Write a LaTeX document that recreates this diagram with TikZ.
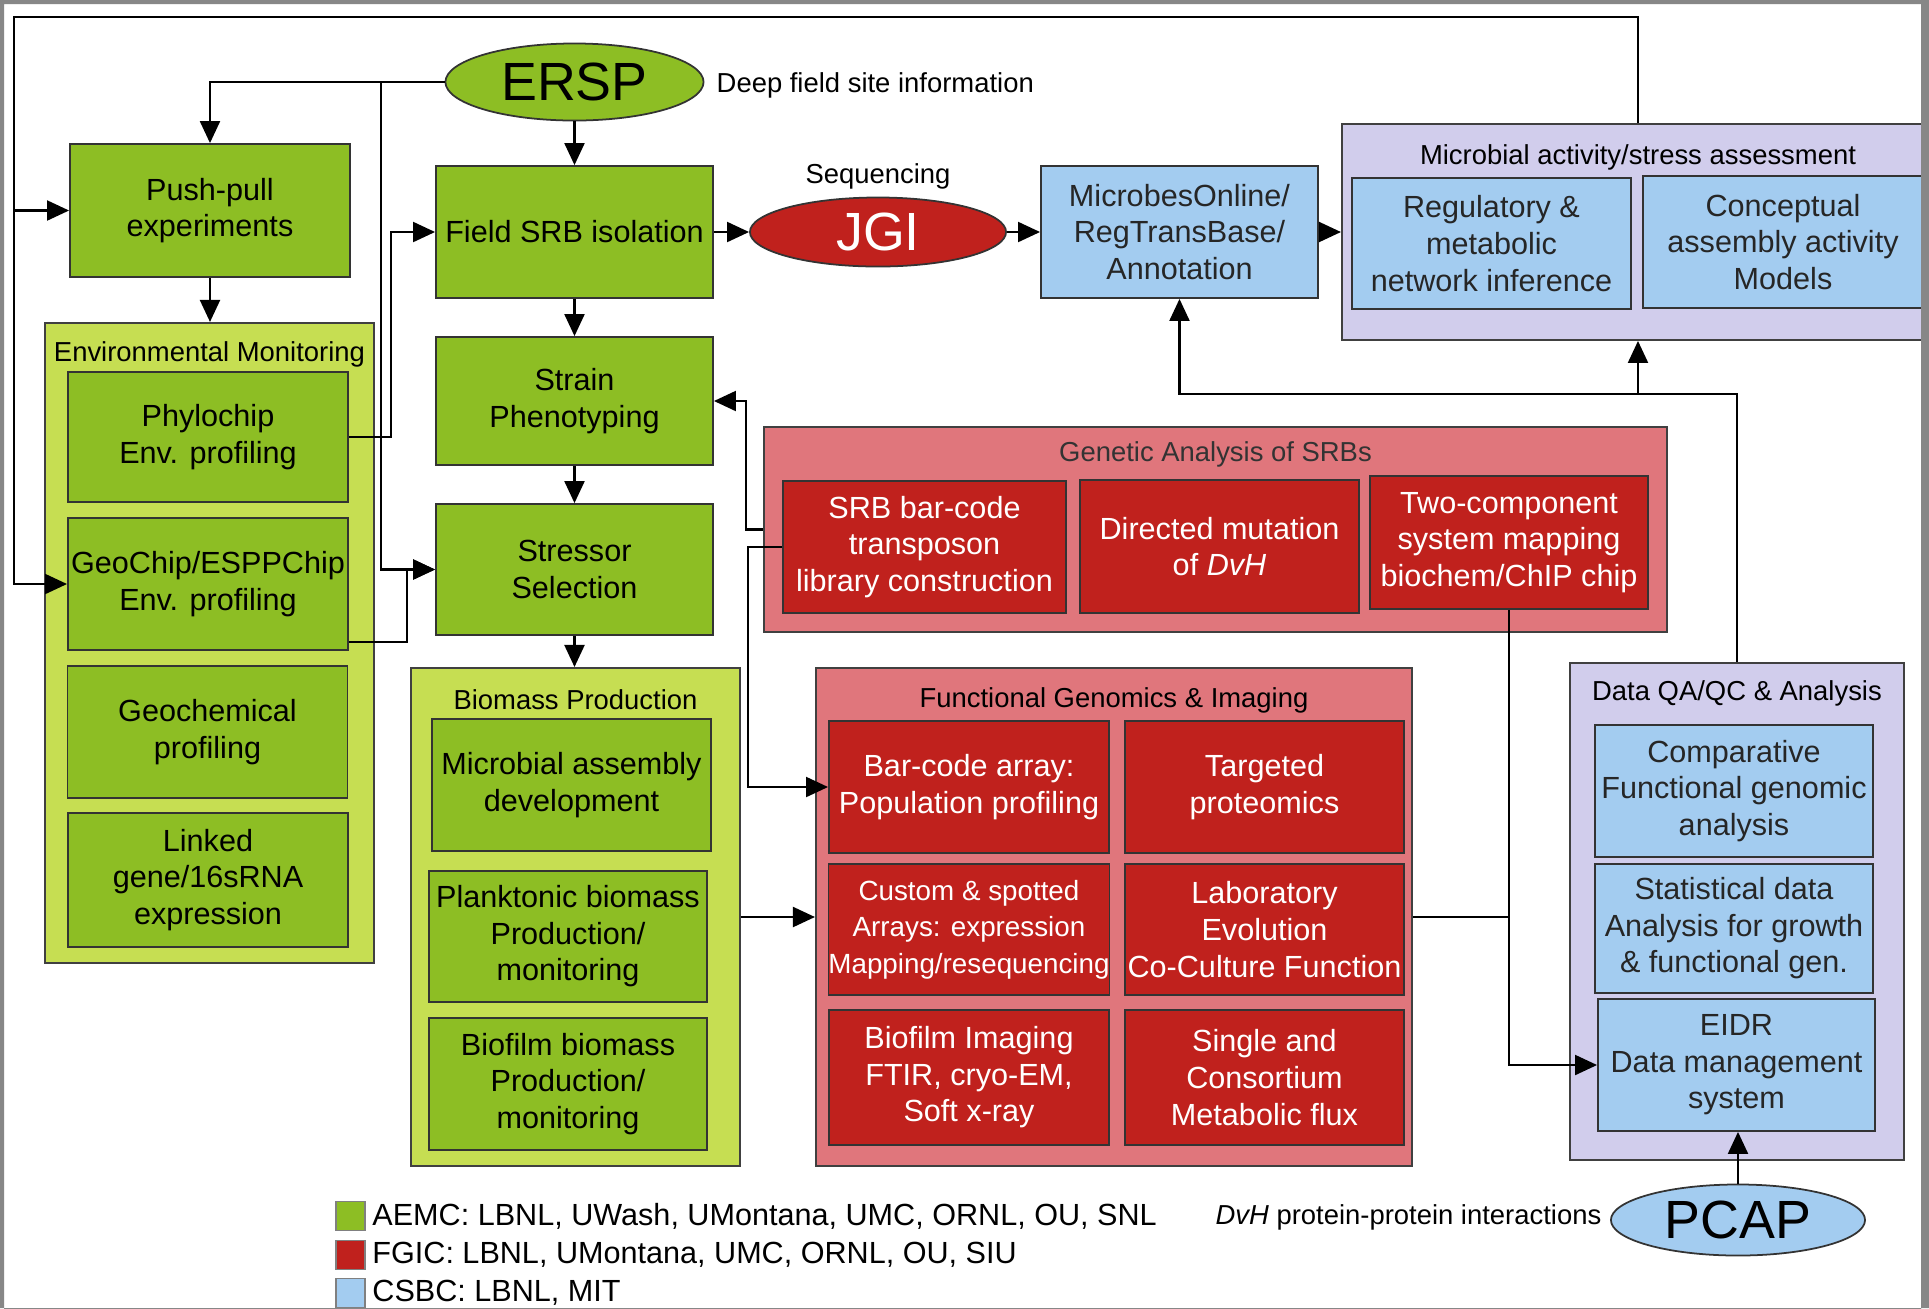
\documentclass[tikz,border=0pt]{standalone}
\usepackage{fontspec}
\setmainfont{Liberation Sans}
\usetikzlibrary{arrows.meta,shapes.geometric}
\definecolor{aemc}{RGB}{141,190,36}
\definecolor{aemcbg}{RGB}{198,222,82}
\definecolor{fgic}{RGB}{192,33,29}
\definecolor{fgicbg}{RGB}{224,118,124}
\definecolor{csbc}{RGB}{163,204,240}
\definecolor{csbcbg}{RGB}{209,205,236}
\definecolor{framegray}{RGB}{135,135,135}
\tikzset{
    box/.style={draw=black!80,line width=0.5pt,align=center,inner sep=0pt,
        minimum width=28mm,minimum height=13.2mm,font=\fontsize{8.7}{10.4}\selectfont},
    gbox/.style={box,fill=aemc},
    rbox/.style={box,fill=fgic,text=white},
    bbox/.style={box,fill=csbc,text=black!85},
    grp/.style={draw=black!75,line width=0.5pt,inner sep=0pt},
    ggrp/.style={grp,fill=aemcbg},
    rgrp/.style={grp,fill=fgicbg},
    bgrp/.style={grp,fill=csbcbg},
    title/.style={font=\fontsize{7.8}{9}\selectfont,inner sep=0pt},
    oval/.style={ellipse,draw=black!80,line width=0.5pt,inner sep=0pt,
        font=\fontsize{15.3}{16}\selectfont},
    key/.style={draw=black!50,line width=0.4pt,minimum width=2.9mm,minimum height=2.9mm,inner sep=0pt},
    link/.style={line width=0.6pt},
    arr/.style={link,-{Triangle[length=2.2mm,width=2mm]}}
}
\begin{document}
    \begin{tikzpicture}[x=0.01cm,y=-0.01cm]
        \useasboundingbox(0,0)rectangle(1929,1308);
        \fill[white](0,0)rectangle(1929,1308);
        % groups
        \node[ggrp,minimum width=32.9mm,minimum height=64mm](env)at(209.5,643){};
        \node[ggrp,minimum width=32.9mm,minimum height=49.8mm](bio)at(575.5,917){};
        \node[rgrp,minimum width=90.3mm,minimum height=20.5mm](gen)at(1215.5,529.5){};
        \node[rgrp,minimum width=59.6mm,minimum height=49.8mm](fg)at(1114,917){};
        \node[bgrp,minimum width=59.2mm,minimum height=21.6mm](mact)at(1638,232){};
        \node[bgrp,minimum width=33.4mm,minimum height=49.7mm](dq)at(1737,911.5){};
        \node[title](envt)at(209.5,354){Environmental Monitoring};
        \node[title](biot)at(575.5,700){Biomass Production};
        \node[title,text=black!80](gent)at(1215.5,454){Genetic Analysis of SRBs};
        \node[title](fgt)at(1114,700){Functional Genomics \& Imaging};
        \node[title](mactt)at(1638,157){Microbial activity/stress assessment};
        \node[title](dqt)at(1737,693){Data QA/QC \& Analysis};
        % field side
        \node[gbox,minimum height=13.3mm](push)at(210,210.5){Push-pull\\experiments};
        \node[gbox,minimum height=13mm](phylo)at(208,437){Phylochip\\Env. profiling};
        \node[gbox](geo)at(208,584){GeoChip/ESPPChip\\Env. profiling};
        \node[gbox](geochem)at(207.5,732){Geochemical\\profiling};
        \node[gbox,minimum height=13.4mm](linked)at(208,880){Linked\\gene/16sRNA\\expression};
        \node[gbox,minimum width=27.7mm](field)at(574.5,232){Field SRB isolation};
        \node[gbox,minimum width=27.7mm,minimum height=12.8mm](strain)at(574.5,401){Strain\\Phenotyping};
        \node[gbox,minimum width=27.7mm,minimum height=13.1mm](stress)at(574.5,569.5){Stressor\\Selection};
        \node[gbox,minimum width=27.9mm](massdev)at(571.5,785){Microbial assembly\\development};
        \node[gbox,minimum width=27.8mm,minimum height=13.1mm](plank)at(568,936.5){Planktonic biomass\\Production/\\monitoring};
        \node[gbox,minimum width=27.8mm](biofilm)at(568,1084){Biofilm biomass\\Production/\\monitoring};
        % genetics
        \node[rbox,minimum width=28.3mm](srb)at(924.5,547){SRB bar-code\\transposon\\library construction};
        \node[rbox,minimum width=27.9mm,minimum height=13.3mm](mut)at(1219.5,546.5){Directed mutation\\of \textit{DvH}};
        \node[rbox,minimum width=27.8mm,minimum height=13.3mm](twoc)at(1509,542.5){Two-component\\system mapping\\biochem/ChIP chip};
        \node[rbox](bca)at(969,787){Bar-code array:\\Population profiling};
        \node[rbox,minimum width=27.9mm](prot)at(1264.5,787){Targeted\\proteomics};
        \node[rbox,minimum height=13.1mm,font=\fontsize{7.9}{10.4}\selectfont](custom)at(969,929.5){Custom \& spotted\\Arrays: expression\\Mapping/resequencing};
        \node[rbox,minimum width=27.9mm,minimum height=13.1mm](evol)at(1264.5,929.5){Laboratory\\Evolution\\Co-Culture Function};
        \node[rbox,minimum height=13.5mm](imag)at(969,1077.5){Biofilm Imaging\\FTIR, cryo-EM,\\Soft x-ray};
        \node[rbox,minimum width=27.9mm,minimum height=13.5mm](flux)at(1264.5,1077.5){Single and\\Consortium\\Metabolic flux};
        % systems biology
        \node[bbox,minimum width=27.7mm](mo)at(1179.5,232){MicrobesOnline/\\RegTransBase/\\Annotation};
        \node[bbox,minimum width=27.9mm,minimum height=13.1mm](reg)at(1491.5,243.5){Regulatory \&\\metabolic\\network inference};
        \node[bbox](concept)at(1783,242){Conceptual\\assembly activity\\Models};
        \node[bbox,minimum width=27.8mm](comp)at(1734,791){Comparative\\Functional genomic\\analysis};
        \node[bbox,minimum width=27.8mm,minimum height=12.9mm](stat)at(1734,928.5){Statistical data\\Analysis for growth\\\& functional gen.};
        \node[bbox,minimum width=27.7mm](eidr)at(1736.5,1065){EIDR\\Data management\\system};
        % centres
        \node[oval,fill=aemc,minimum width=25.8mm,minimum height=7.7mm](ersp)at(574.5,82){ERSP};
        \node[title,anchor=west](deep)at(716,85){Deep field site information};
        \node[oval,fill=fgic,text=white,minimum width=25.6mm,minimum height=6.9mm](jgi)at(878,232){JGI};
        \node[title](seq)at(878,176){Sequencing};
        \node[oval,fill=csbc,minimum width=25.4mm,minimum height=7.1mm](pcap)at(1738,1220){PCAP};
        \node[title,anchor=east](ppi)at(1602,1217){\textit{DvH} protein-protein interactions};
        % connectors
        \coordinate(ersj)at(381,82);
        \coordinate(fbtop)at(14,17);
        \coordinate(dqj)at(1737,394);
        \draw[arr](ersp.south)--(field.north);
        \draw[arr](ersp.west)-|(push.north);
        \draw[arr](ersp.west)--(ersj)|-(stress.west);
        \draw[arr](phylo.east)--++(42,0)|-(field.west);
        \draw[arr]([yshift=0.9mm]geo.south east)--++(58,0)|-(stress.west);
        \draw[arr](push.south)--(push.south|-env.north);
        \draw[arr](field.south)--(strain.north);
        \draw[arr](strain.south)--(stress.north);
        \draw[arr](stress.south)--(stress.south|-bio.north);
        \draw[arr](field.east)--(jgi.west);
        \draw[arr](jgi.east)--(mo.west);
        \draw[arr](mo.east)--(mact.west);
        \draw[arr](gen.west)--++(-17,0)|-(strain.east);
        \draw[arr](srb.west)--++(-34,0)|-(bca.west);
        \draw[arr](bio.east)--(fg.west);
        \draw[arr](twoc.south)|-(eidr.west);
        \draw[link](fg.east)--(fg.east-|twoc.south);
        \draw[arr](dq.north)--(dqj)-|(mo.south);
        \draw[arr](dqj-|mact.south)--(mact.south);
        \draw[arr](pcap.north)--(pcap.north|-eidr.south);
        \draw[arr](mact.north)|-(fbtop)|-(push.west);
        \draw[arr](fbtop)|-(geo.west);
        % legend
        \node[key,fill=aemc](keya)at(350.5,1216){};
        \node[key,fill=fgic](keyf)at(350.5,1255){};
        \node[key,fill=csbc](keyc)at(350.5,1293){};
        \node[right,inner sep=0.6mm,font=\fontsize{8.7}{10.4}\selectfont](leg1)at(keya.east){AEMC: LBNL, UWash, UMontana, UMC, ORNL, OU, SNL};
        \node[right,inner sep=0.6mm,font=\fontsize{8.7}{10.4}\selectfont](leg2)at(keyf.east){FGIC: LBNL, UMontana, UMC, ORNL, OU, SIU};
        \node[right,inner sep=0.6mm,font=\fontsize{8.7}{10.4}\selectfont](leg3)at(keyc.east){CSBC: LBNL, MIT};
        \fill[framegray,even odd rule](0,0)rectangle(1929,1308)(4,4)rectangle(1921,1310);
    \end{tikzpicture}
\end{document}
